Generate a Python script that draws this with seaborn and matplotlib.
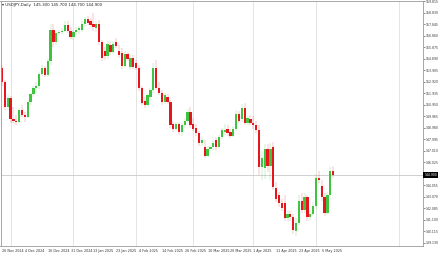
import matplotlib
matplotlib.use("Agg")
import matplotlib.pyplot as plt
import matplotlib.transforms as mtransforms
import seaborn as sns
import numpy as np

symbol = "USDJPY,Daily"

opens = [154.1, 152.9, 150.8, 151.5, 149.7, 149.6, 149.5, 150.5, 150.1, 149.9,
         151.2, 151.9, 152.4, 152.6, 153.6, 154.1, 153.5, 154.7, 157.4, 156.3,
         157.1, 157.2, 157.3, 157.8, 157.3, 156.8, 157.2, 157.35, 157.4, 157.9,
         158.3, 158.1, 157.9, 157.5, 157.9, 156.3, 155.6, 155.1, 156.1, 155.5,
         156.3, 155.6, 155.4, 154.3, 155.3, 154.2, 155.0, 154.5, 154.1, 152.4,
         151.3, 150.9, 151.6, 152.2, 154.1, 152.4, 152.0, 151.2, 151.6, 151.2,
         149.3, 148.9, 149.3, 148.6, 149.2, 149.6, 150.3, 149.3, 149.0, 148.5,
         147.7, 147.3, 146.6, 147.2, 147.3, 147.9, 147.3, 148.2, 148.6, 148.9,
         148.6, 148.3, 148.9, 150.2, 149.7, 150.7, 149.4, 149.7, 149.4, 149.2,
         148.8, 145.6, 145.5, 147.2, 145.7, 147.3, 143.8, 143.2, 142.5, 142.5,
         141.2, 141.6, 141.3, 140.1, 140.8, 142.7, 141.9, 143.0, 141.3, 141.6,
         142.3, 144.7, 144.0, 143.0, 141.7, 143.2, 145.3]
highs = [154.4, 153.1, 151.9, 151.7, 150.8, 150.1, 150.7, 150.9, 150.3, 151.4,
         152.0, 152.6, 152.9, 153.8, 154.4, 154.3, 155.0, 157.9, 157.9, 157.3,
         157.4, 157.5, 158.1, 158.1, 157.6, 157.4, 157.6, 157.7, 158.1, 158.5,
         158.6, 158.4, 158.87, 158.1, 158.2, 156.5, 155.9, 156.4, 156.3, 156.4,
         156.7, 156.1, 155.8, 155.6, 155.5, 155.2, 155.2, 154.8, 154.4, 152.6,
         151.6, 151.9, 152.4, 154.5, 154.8, 152.9, 152.2, 152.0, 151.9, 151.4,
         149.6, 149.5, 149.5, 149.4, 149.8, 150.6, 150.8, 149.8, 149.3, 148.7,
         148.2, 147.9, 147.4, 147.5, 147.9, 148.2, 148.4, 149.0, 149.3, 149.2,
         148.9, 149.1, 150.5, 150.4, 151.0, 151.1, 150.0, 150.1, 150.0, 149.6,
         149.2, 147.0, 147.6, 147.6, 147.7, 147.8, 144.3, 143.5, 142.9, 143.2,
         141.9, 141.8, 141.6, 141.2, 143.2, 143.4, 143.4, 143.2, 141.9, 142.6,
         145.0, 145.3, 144.5, 143.4, 143.5, 145.6, 145.7]
lows = [152.6, 150.5, 150.5, 149.4, 149.4, 149.2, 149.4, 149.9, 149.5, 149.8,
        150.9, 151.6, 152.0, 152.3, 153.4, 153.3, 153.3, 154.4, 155.9, 156.1,
        156.9, 157.0, 157.2, 157.1, 156.6, 156.5, 156.9, 157.0, 157.2, 157.7,
        157.8, 157.6, 157.3, 157.2, 156.1, 154.7, 154.8, 154.9, 155.2, 155.3,
        155.8, 155.0, 154.0, 154.1, 154.7, 153.9, 154.0, 153.9, 152.1, 150.9,
        150.7, 150.8, 151.4, 152.0, 152.2, 151.8, 150.9, 151.0, 151.0, 149.0,
        148.6, 148.7, 148.4, 148.3, 149.0, 149.4, 149.0, 148.7, 148.3, 147.4,
        147.4, 146.4, 146.5, 147.0, 147.1, 147.1, 147.2, 148.0, 148.4, 148.3,
        148.1, 148.2, 148.7, 149.4, 149.5, 149.2, 149.2, 149.2, 148.9, 148.5,
        144.9, 144.5, 144.6, 145.2, 144.5, 143.6, 142.6, 142.2, 141.8, 141.0,
        140.9, 141.0, 139.9, 139.7, 140.6, 141.7, 141.7, 141.0, 141.1, 141.4,
        142.0, 144.2, 142.7, 141.4, 141.5, 143.0, 144.7]
closes = [152.9, 150.8, 151.5, 149.7, 149.6, 149.5, 150.5, 150.1, 149.9, 151.2,
          151.9, 152.4, 152.6, 153.6, 154.1, 153.5, 154.7, 157.4, 156.3, 157.1,
          157.2, 157.3, 157.8, 157.3, 156.8, 157.2, 157.4, 157.5, 157.9, 158.3,
          158.0, 157.8, 157.6, 157.9, 156.3, 155.0, 155.1, 156.2, 155.5, 156.2,
          156.0, 155.2, 154.3, 155.3, 154.9, 155.0, 154.2, 154.1, 152.4, 151.1,
          150.9, 151.75, 152.2, 154.1, 152.4, 152.0, 151.2, 151.75, 151.2, 149.2,
          148.9, 149.3, 148.6, 149.2, 149.6, 150.3, 149.2, 148.9, 148.5, 147.7,
          147.9, 146.6, 147.2, 147.3, 147.7, 147.3, 148.2, 148.75, 148.8, 148.5,
          148.3, 148.9, 150.2, 149.6, 150.7, 149.4, 149.8, 149.4, 149.2, 148.8,
          145.6, 146.4, 147.2, 145.7, 147.2, 143.9, 142.9, 142.5, 142.1, 141.2,
          141.6, 141.3, 140.2, 140.8, 142.7, 141.9, 143.0, 141.3, 141.6, 142.3,
          144.7, 144.5, 143.0, 141.7, 143.2, 145.3, 144.9]

date_labels = ["26 Nov 2024", "4 Dec 2024", "16 Dec 2024", "31 Dec 2024",
               "13 Jan 2025", "23 Jan 2025", "4 Feb 2025", "14 Feb 2025",
               "26 Feb 2025", "10 Mar 2025", "20 Mar 2025", "1 Apr 2025",
               "11 Apr 2025", "23 Apr 2025", "5 May 2025"]
label_every = 8
month_start_bars = [3, 25, 47, 67, 88, 110, 139]
price_ticks = [159.815, 158.830, 157.845, 156.860, 155.875, 154.890, 153.905,
               152.920, 151.935, 150.950, 149.965, 148.980, 147.995, 147.010,
               146.025, 145.040, 144.055, 143.070, 142.085, 141.100, 140.115,
               139.130]

sns.set_theme(style="white")
plt.rcParams["font.family"] = ["DejaVu Sans"]

W, H = 440, 254
fig = plt.figure(figsize=(W / 100, H / 100), dpi=100)
fig.patch.set_facecolor("white")
ax = fig.add_axes([0.5 / W, 8 / H, 422.5 / W, 245.5 / H])
ax.set_facecolor("white")

n = len(opens)
x = np.arange(n)
o = np.array(opens); c = np.array(closes)
hi = np.array(highs); lo = np.array(lows)
up = c >= o
bull, bear = "#3fc43f", "#e5161c"
colors = np.where(up, bull, bear)

for b in month_start_bars:
    ax.axvline(b, color="#d9d9d9", lw=0.5, zorder=0)

ax.axhline(closes[-1], color="#c9c9c9", lw=0.6, zorder=0.5)

ax.vlines(x, lo, hi, colors=colors, lw=0.35, alpha=0.5, zorder=1)
body_h = np.maximum(np.abs(c - o), 0.06)
ax.bar(x, body_h, bottom=np.minimum(o, c), width=0.8, color=colors,
       linewidth=0, zorder=2)

px_per_bar = 2.855
ax.set_xlim(-1.5 / px_per_bar, (422.5 - 1.5) / px_per_bar)
ax.set_ylim(159.90 - 245.5 * 0.0858, 159.90)

for s in ax.spines.values():
    s.set_color("#9a9a9a")
    s.set_linewidth(0.6)

# ticks hidden behind the current-price box are not shown
shown = [v for v in price_ticks if abs(v - closes[-1]) > 0.45]
ax.yaxis.tick_right()
ax.set_yticks(shown)
ax.set_yticklabels([f"{v:.3f}" for v in shown])
ax.tick_params(axis="y", labelsize=2.25, length=1.2, width=0.4, pad=0.8,
               colors="#333333")

xt = np.arange(len(date_labels)) * label_every
ax.set_xticks(xt)
ax.set_xticklabels(date_labels, ha="left")
ax.tick_params(axis="x", labelsize=2.4, length=1.5, width=0.4, pad=0.6,
               colors="#333333")

trans = mtransforms.blended_transform_factory(ax.transAxes, ax.transData)
ax.text(1.003, closes[-1], f"{closes[-1]:.3f}", transform=trans,
        fontsize=2.25, color="white", va="center", ha="left", zorder=5,
        bbox=dict(boxstyle="square,pad=0.35", fc="black", ec="black", lw=0))

title = (f"\u25BE {symbol}  {opens[-1]:.3f} {highs[-1]:.3f} "
         f"{lows[-1]:.3f} {closes[-1]:.3f}")
fig.text(2 / W, 1 - 5 / H, title, fontsize=2.9, color="#222222",
         va="center", ha="left")

fig.savefig("out.png", dpi=100)
